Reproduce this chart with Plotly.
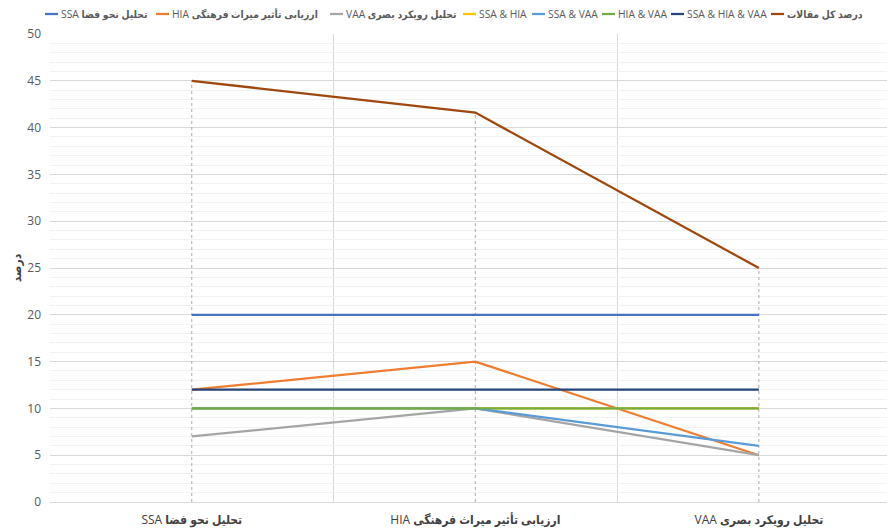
import plotly.graph_objects as go

categories = ["SSA <b>تحلیل نحو فضا</b>", "HIA <b>ارزیابی تأثیر میراث فرهنگی</b>", "VAA <b>تحلیل رویکرد بصری</b>"]
x_pos = [0, 1, 2]

series_names = [
    "SSA <b>تحلیل نحو فضا</b>",
    "HIA <b>ارزیابی تأثیر میراث فرهنگی</b>",
    "VAA <b>تحلیل رویکرد بصری</b>",
    "SSA & HIA",
    "SSA & VAA",
    "HIA & VAA",
    "SSA & HIA & VAA",
    "<b>درصد کل مقالات</b>",
]
ssa = [20, 20, 20]
hia = [12, 15, 5]
vaa = [7, 10, 5]
ssa_hia = [10, 10, 10]
ssa_vaa = [10, 10, 6]
hia_vaa = [10, 10, 10]
ssa_hia_vaa = [12, 12, 12]
total = [45, 41.6, 25]

series_values = [ssa, hia, vaa, ssa_hia, ssa_vaa, hia_vaa, ssa_hia_vaa, total]
colors = ["#4472C4", "#ED7D31", "#A5A5A5", "#FFC000", "#5B9BD5", "#70AD47", "#264478", "#9E480E"]

FONT = "Open Sans, DejaVu Sans Condensed, DejaVu Sans, sans-serif"

W, H = 895, 530
ML, MR, MT, MB = 42, 8, 26, 36
PW, PH = W - ML - MR, H - MT - MB

fig = go.Figure()

# drop lines from axis to the highest series
dx, dy = [], []
for xi, v in zip(x_pos, total):
    dx += [xi, xi, None]
    dy += [0, v, None]
fig.add_trace(go.Scatter(x=dx, y=dy, mode="lines", showlegend=False, hoverinfo="skip",
                         line=dict(color="#ABABAB", width=1, dash="dot")))

for name, vals, c in zip(series_names, series_values, colors):
    fig.add_trace(go.Scatter(x=x_pos, y=vals, mode="lines", name=name, showlegend=False,
                             line=dict(color=c, width=2.25)))

# legend row (Excel-style, short swatch followed by the label)
legend_px = [37, 148, 322, 455, 524, 594, 663, 763]   # left edge of each legend entry, px (figure coords)
legend_y_px = 6
swatch = 13
ly = (H - MB - legend_y_px) / PH
for name, c, px in zip(series_names, colors, legend_px):
    x0 = (px - ML) / PW
    x1 = (px + swatch - ML) / PW
    fig.add_shape(type="line", xref="paper", yref="paper", x0=x0, x1=x1, y0=ly, y1=ly,
                  line=dict(color=c, width=2.25))
    fig.add_annotation(text=name, xref="paper", yref="paper", x=x1 + 1 / PW, y=ly,
                       xanchor="left", yanchor="middle", showarrow=False,
                       font=dict(family=FONT, size=10.3, color="#595959"))

fig.update_layout(
    width=W, height=H,
    margin=dict(l=ML, r=MR, t=MT, b=MB, autoexpand=False),
    paper_bgcolor="white", plot_bgcolor="white",
    font=dict(family=FONT, size=12, color="#595959"),
    showlegend=False,
    xaxis=dict(range=[-0.5, 2.48], tickmode="array", tickvals=x_pos, ticktext=categories,
               showgrid=False, zeroline=False, showline=False, ticks="",
               ticklabelstandoff=9,
               tickfont=dict(size=12, color="#404040"),
               minor=dict(tickmode="array", tickvals=[-0.5, 0.5, 1.5, 2.5], showgrid=True,
                          gridcolor="#D9D9D9", gridwidth=1, ticks="")),
    yaxis=dict(range=[0, 50], dtick=5, showgrid=True, gridcolor="#D9D9D9", gridwidth=1,
               zeroline=True, zerolinecolor="#D9D9D9", zerolinewidth=1,
               showline=False, ticks="", ticklabelstandoff=8,
               tickfont=dict(size=12, color="#595959"),
               title=dict(text="<b>درصد</b>", font=dict(size=12, color="#404040"), standoff=8),
               minor=dict(dtick=1, showgrid=True, gridcolor="#F2F2F2", gridwidth=1)),
)

fig.write_html("out.html")
